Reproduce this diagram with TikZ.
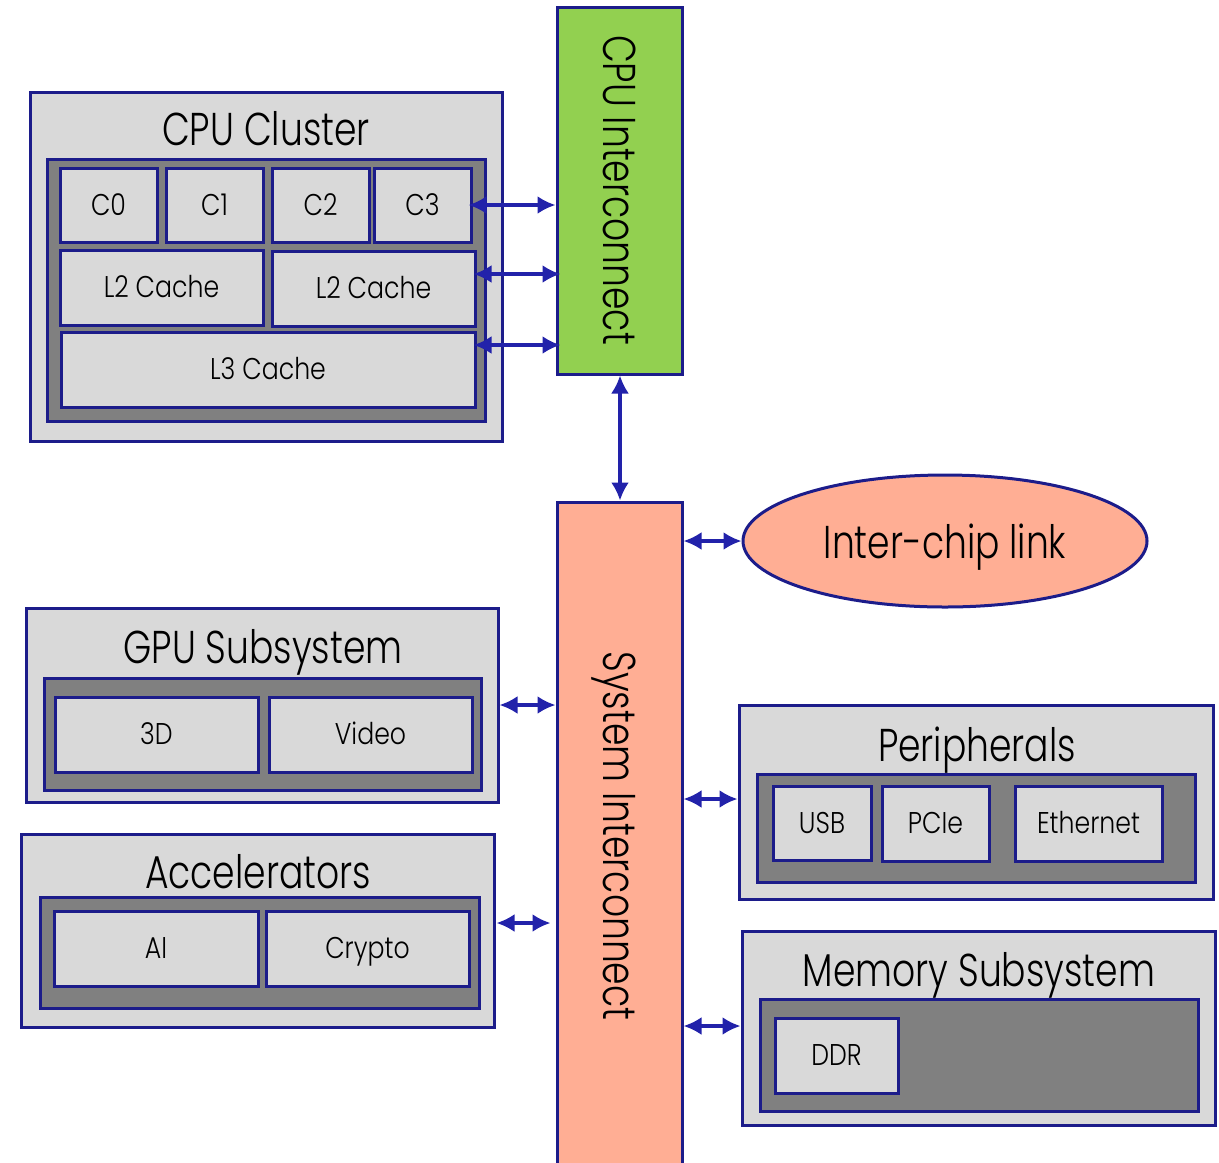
\documentclass[tikz,border=0pt]{standalone}
\usepackage{fontspec}
\setmainfont{Poppins Light}
\newfontfamily\titlefont{Poppins Light}[FakeStretch=0.785]
\newfontfamily\unitfont{Poppins Light}[FakeStretch=0.84]
\usetikzlibrary{fit,arrows.meta,shapes.geometric}
\definecolor{navy}{HTML}{1C1C8A}
\definecolor{arr}{HTML}{2222AA}
\definecolor{lgray}{HTML}{D9D9D9}
\definecolor{dgray}{HTML}{808080}
\definecolor{green}{HTML}{92D050}
\definecolor{salmon}{HTML}{FFAE94}
\tikzset{
  box/.style={draw=navy, line width=1.5pt, inner sep=0pt},
  outerbox/.style={box, fill=lgray},
  innerbox/.style={box, fill=dgray},
  ulabel/.style={font=\unitfont\fontsize{15}{18}\selectfont, inner sep=0pt, text height=10.4pt, text depth=0pt},
  unit/.style={box, fill=lgray, label={[ulabel]center:#1}},
  title/.style={font=\titlefont\fontsize{23}{28}\selectfont, inner sep=0pt, text height=16.1pt, text depth=0pt},
  link/.style={draw=arr, line width=1.6pt, {Latex[length=9pt,width=9pt]}-{Latex[length=9pt,width=9pt]}},
}
\begin{document}
\begin{tikzpicture}[x=0.5pt,y=-0.5pt]
\useasboundingbox (0,0) rectangle (1219,1162);
\clip (0,0) rectangle (1219,1162);
% CPU cluster
\node[outerbox, fit={(30,92)(502,441)}] (cpuc) {};
\node[title] (cpuct) at (266,129) {CPU Cluster};
\node[innerbox, fit={(47,159)(485,421)}] (cpuci) {};
\node[unit=C0, fit={(60,168)(157,242)}] (c0) {};
\node[unit=C1, fit={(166,168)(263,242)}] (c1) {};
\node[unit=C2, fit={(272,168)(369,242)}] (c2) {};
\node[unit=C3, fit={(374,168)(471,242)}] (c3) {};
\node[unit=L2 Cache, fit={(60,250)(263,325)}] (l2a) {};
\node[unit=L2 Cache, fit={(272,251)(475,326)}] (l2b) {};
\node[unit=L3 Cache, fit={(61,332)(475,407)}] (l3) {};
% CPU interconnect
\node[box, fill=green, fit={(557,7)(682,374)}] (cpui) {};
\node[title, rotate=-90] (cpuit) at (620,190) {CPU Interconnect};
% System interconnect
\node[box, fill=salmon, fit={(557,502)(682,1175)}] (sysi) {};
\node[title, rotate=-90] (sysit) at (620,836) {System Interconnect};
% Inter-chip link
\node[box, fill=salmon, ellipse, minimum width=202pt, minimum height=66pt] (icl) at (945,541) {};
\node[title] (iclt) at (945,542) {Inter-chip link};
% GPU
\node[outerbox, fit={(26,608)(498,802)}] (gpu) {};
\node[title] (gput) at (263,647) {GPU Subsystem};
\node[innerbox, fit={(44,678)(481,790)}] (gpui) {};
\node[unit=3D, fit={(55,697)(258,772)}] (d3) {};
\node[unit=Video, fit={(269,697)(472,772)}] (vid) {};
% Accelerators
\node[outerbox, fit={(21,834)(494,1027)}] (acc) {};
\node[title] (acct) at (258,872) {Accelerators};
\node[innerbox, fit={(40,897)(479,1008)}] (acci) {};
\node[unit=AI, fit={(54,911)(258,986)}] (ai) {};
\node[unit=Crypto, fit={(266,911)(469,986)}] (cry) {};
% Peripherals
\node[outerbox, fit={(739,705)(1213,899)}] (per) {};
\node[title] (pert) at (977,745) {Peripherals};
\node[innerbox, fit={(757,774)(1195,882)}] (peri) {};
\node[unit=USB, fit={(773,786)(871,860)}] (usb) {};
\node[unit=PCIe, fit={(882,786)(989,861)}] (pcie) {};
\node[unit=Ethernet, fit={(1015,786)(1162,861)}] (eth) {};
% Memory
\node[outerbox, fit={(742,931)(1215,1125)}] (mem) {};
\node[title] (memt) at (979,970) {Memory Subsystem};
\node[innerbox, fit={(760,999)(1198,1111)}] (memi) {};
\node[unit=DDR, fit={(775,1018)(898,1093)}] (ddr) {};
% connectors
\draw[link] ([xshift=-2pt]c3.east |- 0,205) -- (cpui.west |- 0,205);
\draw[link] ([xshift=-1.5pt]l2b.east |- 0,274) -- ([xshift=2.5pt]cpui.west |- 0,274);
\draw[link] ([xshift=-1.5pt]l3.east |- 0,345) -- ([xshift=2.5pt]cpui.west |- 0,345);
\draw[link] (cpui.south -| 620,0) -- (sysi.north -| 620,0);
\draw[link] (sysi.east |- 0,541) -- (icl.west);
\draw[link] (gpu.east |- 0,705) -- (sysi.west |- 0,705);
\draw[link] ([xshift=0.5pt]acc.east |- 0,923) -- ([xshift=-2.5pt]sysi.west |- 0,923);
\draw[link] (sysi.east |- 0,799) -- (per.west |- 0,799);
\draw[link] (sysi.east |- 0,1026) -- (mem.west |- 0,1026);
\end{tikzpicture}
\end{document}
